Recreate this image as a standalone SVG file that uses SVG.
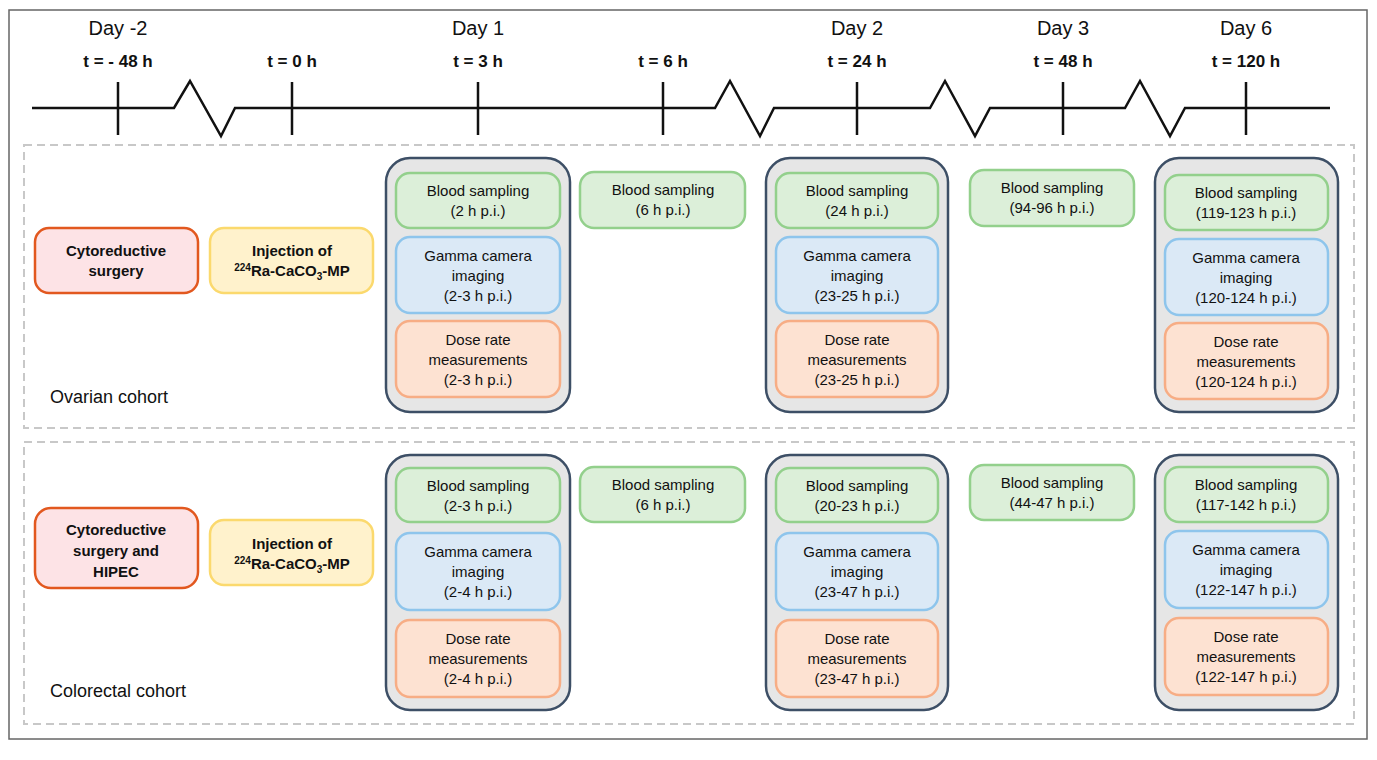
<svg xmlns="http://www.w3.org/2000/svg" width="1377" height="760" viewBox="0 0 1377 760">
<style>
text{font-family:"Liberation Sans",Arial,sans-serif;fill:#111;text-anchor:middle}
.day{font-size:20px}
.t{font-size:17px;font-weight:bold}
.lb{font-size:15px}
.bd{font-size:15px;font-weight:bold}
.coh{font-size:18px;text-anchor:start}
.tl{stroke:#111;stroke-width:2.5;fill:none}
.panel{fill:none;stroke:#c8c8c8;stroke-width:2;stroke-dasharray:8 5}
.grp{fill:#e6e6e6;stroke:#3d4f66;stroke-width:2.5}
.g{fill:#dcefd9;stroke:#93d08c;stroke-width:2.5}
.b{fill:#dbe9f6;stroke:#8ec5ec;stroke-width:2.5}
.o{fill:#fde2d2;stroke:#f7ad85;stroke-width:2.5}
.r{fill:#fde3e6;stroke:#e2581f;stroke-width:2.5}
.y{fill:#fff2cc;stroke:#fbd96d;stroke-width:2.5}
</style>
<rect x="0" y="0" width="1377" height="760" fill="#fff"/>
<rect x="9" y="10" width="1358" height="729" fill="none" stroke="#666" stroke-width="1.5"/>
<g id="timeline">
<text class="day" x="118" y="35">Day -2</text>
<text class="day" x="478" y="35">Day 1</text>
<text class="day" x="857" y="35">Day 2</text>
<text class="day" x="1063" y="35">Day 3</text>
<text class="day" x="1246" y="35">Day 6</text>
<text class="t" x="118" y="67">t = - 48 h</text>
<text class="t" x="292" y="67">t = 0 h</text>
<text class="t" x="478" y="67">t = 3 h</text>
<text class="t" x="663" y="67">t = 6 h</text>
<text class="t" x="857" y="67">t = 24 h</text>
<text class="t" x="1063" y="67">t = 48 h</text>
<text class="t" x="1246" y="67">t = 120 h</text>
<polyline class="tl" points="32,108 174,108 190,81 221,136 235,108 715,108 730,81 760,136 774,108 930,108 945,81 975,136 990,108 1125,108 1140,81 1170,136 1185,108 1330,108"/>
<path class="tl" d="M118 82V135M292 82V135M478 82V135M663 82V135M857 82V135M1063 82V135M1246 82V135"/>
</g>
<g id="connectors"></g>
<rect class="panel" x="24" y="145" width="1330" height="283"/>
<rect class="panel" x="24" y="442" width="1330" height="282"/>
<text class="coh" x="50" y="403">Ovarian cohort</text>
<text class="coh" x="50" y="697">Colorectal cohort</text>

<g id="ov-surgery"><rect class="r" x="35" y="228" width="163" height="65" rx="14"/><text class="bd" x="116" y="256">Cytoreductive</text><text class="bd" x="116" y="276">surgery</text></g>
<g id="ov-injection"><rect class="y" x="210" y="228" width="163" height="65" rx="14"/><text class="bd" x="292" y="256">Injection of</text><text class="bd" x="292" y="276"><tspan font-size="10" dy="-5">224</tspan><tspan dy="5">Ra-CaCO</tspan><tspan font-size="10" dy="4">3</tspan><tspan dy="-4">-MP</tspan></text></g>

<g id="ov-day1"><rect class="grp" x="386" y="158" width="184" height="254" rx="24"/>
<rect class="g" x="396" y="173" width="164" height="55" rx="14"/><text class="lb" x="478" y="196">Blood sampling</text><text class="lb" x="478" y="216">(2 h p.i.)</text>
<rect class="b" x="396" y="237" width="164" height="76" rx="14"/><text class="lb" x="478" y="261">Gamma camera</text><text class="lb" x="478" y="281">imaging</text><text class="lb" x="478" y="301">(2-3 h p.i.)</text>
<rect class="o" x="396" y="321" width="164" height="76" rx="14"/><text class="lb" x="478" y="345">Dose rate</text><text class="lb" x="478" y="365">measurements</text><text class="lb" x="478" y="385">(2-3 h p.i.)</text></g>
<g id="ov-6h"><rect class="g" x="580" y="172" width="165" height="56" rx="14"/><text class="lb" x="663" y="195">Blood sampling</text><text class="lb" x="663" y="215">(6 h p.i.)</text></g>
<g id="ov-day2"><rect class="grp" x="766" y="158" width="182" height="254" rx="24"/>
<rect class="g" x="776" y="173" width="162" height="55" rx="14"/><text class="lb" x="857" y="196">Blood sampling</text><text class="lb" x="857" y="216">(24 h p.i.)</text>
<rect class="b" x="776" y="237" width="162" height="76" rx="14"/><text class="lb" x="857" y="261">Gamma camera</text><text class="lb" x="857" y="281">imaging</text><text class="lb" x="857" y="301">(23-25 h  p.i.)</text>
<rect class="o" x="776" y="321" width="162" height="76" rx="14"/><text class="lb" x="857" y="345">Dose rate</text><text class="lb" x="857" y="365">measurements</text><text class="lb" x="857" y="385">(23-25 h p.i.)</text></g>
<g id="ov-day3"><rect class="g" x="970" y="170" width="164" height="56" rx="14"/><text class="lb" x="1052" y="193">Blood sampling</text><text class="lb" x="1052" y="213">(94-96 h p.i.)</text></g>
<g id="ov-day6"><rect class="grp" x="1155" y="158" width="183" height="254" rx="24"/>
<rect class="g" x="1165" y="175" width="163" height="55" rx="14"/><text class="lb" x="1246" y="198">Blood sampling</text><text class="lb" x="1246" y="218">(119-123 h p.i.)</text>
<rect class="b" x="1165" y="239" width="163" height="76" rx="14"/><text class="lb" x="1246" y="263">Gamma camera</text><text class="lb" x="1246" y="283">imaging</text><text class="lb" x="1246" y="303">(120-124 h p.i.)</text>
<rect class="o" x="1165" y="323" width="163" height="76" rx="14"/><text class="lb" x="1246" y="347">Dose rate</text><text class="lb" x="1246" y="367">measurements</text><text class="lb" x="1246" y="387">(120-124 h p.i.)</text></g>

<g id="co-surgery"><rect class="r" x="35" y="508" width="163" height="80" rx="16"/><text class="bd" x="116" y="535">Cytoreductive</text><text class="bd" x="116" y="556">surgery and</text><text class="bd" x="116" y="577">HIPEC</text></g>
<g id="co-injection"><rect class="y" x="210" y="520" width="163" height="65" rx="14"/><text class="bd" x="292" y="549">Injection of</text><text class="bd" x="292" y="569"><tspan font-size="10" dy="-5">224</tspan><tspan dy="5">Ra-CaCO</tspan><tspan font-size="10" dy="4">3</tspan><tspan dy="-4">-MP</tspan></text></g>

<g id="co-day1"><rect class="grp" x="386" y="455" width="184" height="255" rx="24"/>
<rect class="g" x="396" y="468" width="164" height="54" rx="14"/><text class="lb" x="478" y="491">Blood sampling</text><text class="lb" x="478" y="511">(2-3 h p.i.)</text>
<rect class="b" x="396" y="533" width="164" height="77" rx="14"/><text class="lb" x="478" y="557">Gamma camera</text><text class="lb" x="478" y="577">imaging</text><text class="lb" x="478" y="597">(2-4 h p.i.)</text>
<rect class="o" x="396" y="620" width="164" height="77" rx="14"/><text class="lb" x="478" y="644">Dose rate</text><text class="lb" x="478" y="664">measurements</text><text class="lb" x="478" y="684">(2-4 h p.i.)</text></g>
<g id="co-6h"><rect class="g" x="580" y="467" width="165" height="55" rx="14"/><text class="lb" x="663" y="490">Blood sampling</text><text class="lb" x="663" y="510">(6 h p.i.)</text></g>
<g id="co-day2"><rect class="grp" x="766" y="455" width="182" height="255" rx="24"/>
<rect class="g" x="776" y="468" width="162" height="54" rx="14"/><text class="lb" x="857" y="491">Blood sampling</text><text class="lb" x="857" y="511">(20-23 h p.i.)</text>
<rect class="b" x="776" y="533" width="162" height="77" rx="14"/><text class="lb" x="857" y="557">Gamma camera</text><text class="lb" x="857" y="577">imaging</text><text class="lb" x="857" y="597">(23-47 h p.i.)</text>
<rect class="o" x="776" y="620" width="162" height="77" rx="14"/><text class="lb" x="857" y="644">Dose rate</text><text class="lb" x="857" y="664">measurements</text><text class="lb" x="857" y="684">(23-47 h p.i.)</text></g>
<g id="co-day3"><rect class="g" x="970" y="465" width="164" height="55" rx="14"/><text class="lb" x="1052" y="488">Blood sampling</text><text class="lb" x="1052" y="508">(44-47 h p.i.)</text></g>
<g id="co-day6"><rect class="grp" x="1155" y="455" width="183" height="255" rx="24"/>
<rect class="g" x="1165" y="467" width="163" height="55" rx="14"/><text class="lb" x="1246" y="490">Blood sampling</text><text class="lb" x="1246" y="510">(117-142 h p.i.)</text>
<rect class="b" x="1165" y="531" width="163" height="77" rx="14"/><text class="lb" x="1246" y="555">Gamma camera</text><text class="lb" x="1246" y="575">imaging</text><text class="lb" x="1246" y="595">(122-147 h p.i.)</text>
<rect class="o" x="1165" y="618" width="163" height="77" rx="14"/><text class="lb" x="1246" y="642">Dose rate</text><text class="lb" x="1246" y="662">measurements</text><text class="lb" x="1246" y="682">(122-147 h p.i.)</text></g>
</svg>
